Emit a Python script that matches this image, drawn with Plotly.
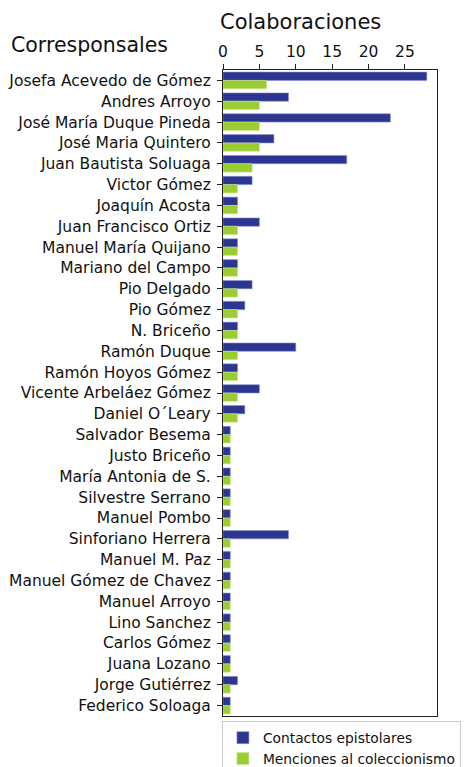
import plotly.graph_objects as go

# ── Data ──────────────────────────────────────────────────────────────────────
corresponsales = [
    "Josefa Acevedo de Gómez", "Andres Arroyo", "José María Duque Pineda",
    "José Maria Quintero", "Juan Bautista Soluaga", "Victor Gómez",
    "Joaquín Acosta", "Juan Francisco Ortiz", "Manuel María Quijano",
    "Mariano del Campo", "Pio Delgado", "Pio Gómez", "N. Briceño",
    "Ramón Duque", "Ramón Hoyos Gómez", "Vicente Arbeláez Gómez",
    "Daniel O´Leary", "Salvador Besema", "Justo Briceño",
    "María Antonia de S.", "Silvestre Serrano", "Manuel Pombo",
    "Sinforiano Herrera", "Manuel M. Paz", "Manuel Gómez de Chavez",
    "Manuel Arroyo", "Lino Sanchez", "Carlos Gómez", "Juana Lozano",
    "Jorge Gutiérrez", "Federico Soloaga",
]
contactos = [28, 9, 23, 7, 17, 4, 2, 5, 2, 2, 4, 3, 2, 10, 2, 5, 3,
             1, 1, 1, 1, 1, 9, 1, 1, 1, 1, 1, 1, 2, 1]
menciones = [6, 5, 5, 5, 4, 2, 2, 2, 2, 2, 2, 2, 2, 2, 2, 2, 2,
             1, 1, 1, 1, 1, 1, 1, 1, 1, 1, 1, 1, 1, 1]
x_ticks = [0, 5, 10, 15, 20, 25]

COLOUR_BLUE = "#2C3590"
COLOUR_GREEN = "#9ACD32"
COLOUR_TEXT = "#111111"
FONT = "DejaVu Sans"

fig = go.Figure()
fig.add_trace(go.Bar(
    y=corresponsales, x=contactos, orientation="h",
    name="Contactos epistolares",
    marker=dict(color=COLOUR_BLUE, line=dict(color="#8C94D0", width=0.6)),
))
fig.add_trace(go.Bar(
    y=corresponsales, x=menciones, orientation="h",
    name="Menciones al coleccionismo",
    marker=dict(color=COLOUR_GREEN, line=dict(color="#CDE88F", width=0.6)),
))

# the page body adds an 8px offset, so margins are shifted to compensate
fig.update_layout(
    width=470, height=767,
    paper_bgcolor="white", plot_bgcolor="white",
    font=dict(family=FONT, color=COLOUR_TEXT, size=14),
    margin=dict(l=215, r=41, t=62, b=59, autoexpand=False),
    barmode="group", bargap=0.2, bargroupgap=0.0,
    xaxis=dict(
        side="top", range=[0, 29.4], tickvals=x_ticks,
        showgrid=False, zeroline=False, automargin=False,
        showline=True, linecolor="#222", linewidth=1.2, mirror=True,
        ticks="outside", ticklen=5, tickcolor="#222",
        tickfont=dict(size=15.5), ticklabelstandoff=1,
    ),
    yaxis=dict(
        autorange="reversed", showgrid=False, automargin=False,
        showline=True, linecolor="#222", linewidth=1.2, mirror=True,
        ticks="outside", ticklen=5, tickcolor="#222",
        tickfont=dict(size=15.5), ticklabelstandoff=3,
    ),
    legend=dict(
        x=-0.005, y=-0.008, xanchor="left", yanchor="top",
        bordercolor="#cccccc", borderwidth=1,
        font=dict(size=13.8), traceorder="normal",
        tracegroupgap=0, itemwidth=30,
    ),
    annotations=[
        dict(text="Colaboraciones", xref="paper", yref="paper",
             x=-0.025, y=1.0, yshift=48, xanchor="left", yanchor="middle",
             showarrow=False, font=dict(size=21)),
        dict(text="Corresponsales", xref="paper", yref="paper",
             x=-1.0, y=1.0, yshift=25, xanchor="left", yanchor="middle",
             showarrow=False, font=dict(size=20.5)),
    ],
)

fig.write_html("out.html")
